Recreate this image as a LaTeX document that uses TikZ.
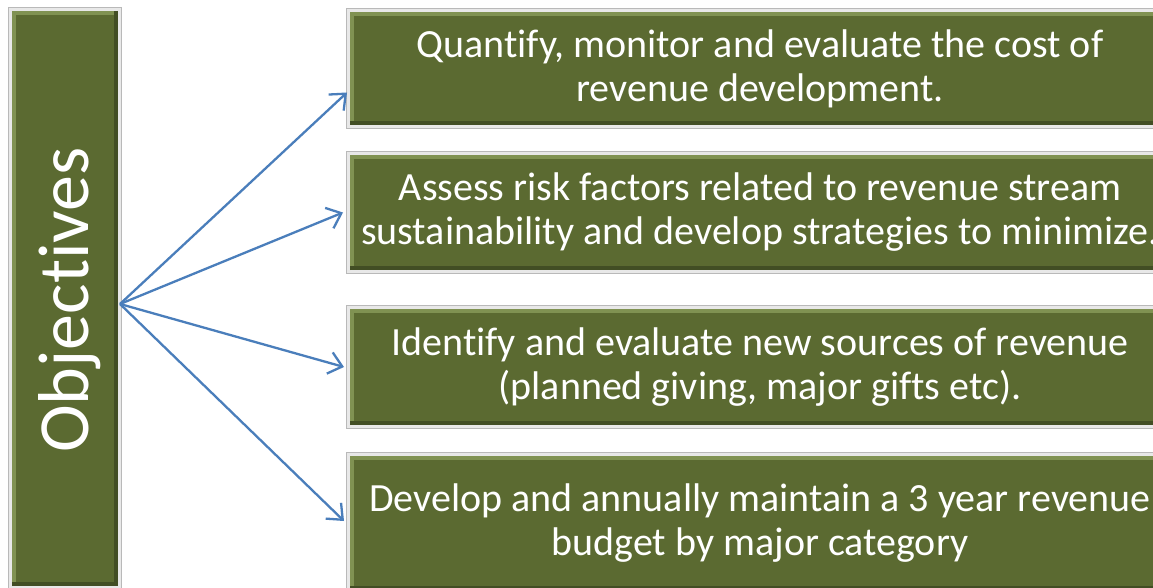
\documentclass[tikz,border=0pt]{standalone}
\usepackage{fontspec}
\setmainfont[Ligatures=CommonOff]{Carlito}
\usetikzlibrary{arrows.meta,calc}
\definecolor{boxgreen}{RGB}{91,106,49}
\definecolor{boxlight}{RGB}{128,146,82}
\definecolor{boxdark}{RGB}{66,78,36}
\definecolor{arrowblue}{RGB}{74,126,187}
\tikzset{
  greenbox/.style={rectangle, fill=boxgreen, inner sep=0pt, outer sep=0pt,
    text=white, align=center, font=\fontsize{40}{44}\selectfont,
    path picture={
      \draw[boxlight, line width=4pt]
        ([xshift=2pt]path picture bounding box.south west) --
        ([xshift=2pt,yshift=-2pt]path picture bounding box.north west) --
        ([yshift=-2pt]path picture bounding box.north east);
      \draw[boxdark, line width=4pt]
        ([xshift=-2pt]path picture bounding box.north east) --
        ([xshift=-2pt,yshift=2pt]path picture bounding box.south east) --
        ([yshift=2pt]path picture bounding box.south west);
    },
    append after command={
      \pgfextra{\draw[gray!18, line width=3pt]
        ($(\tikzlastnode.south west)+(-1.5pt,-1.5pt)$) rectangle
        ($(\tikzlastnode.north east)+(1.5pt,1.5pt)$);
        \draw[gray!55, line width=0.7pt]
        ($(\tikzlastnode.south west)+(-3.3pt,-3.3pt)$) rectangle
        ($(\tikzlastnode.north east)+(3.3pt,3.3pt)$);}
    }},
  conn/.style={draw=arrowblue, line width=2.3pt,
    -{Straight Barb[length=13pt,width=22pt,line width=2.3pt]}}
}
\begin{document}
\begin{tikzpicture}[x=1pt,y=-1pt]
\useasboundingbox (0,0) rectangle (1153,588);
\fill[white] (0,0) rectangle (1153,588);
% left box
\node[greenbox, minimum width=106pt, minimum height=575pt] (obj) at (65,298.5) {};
\node[rotate=90, anchor=base, text=white, inner sep=0pt,
  font=\fontsize{72}{80}\selectfont] (objtext) at (88,300) {Objectives};
% right boxes
\node[greenbox, minimum width=820pt, minimum height=113pt] (b1) at (760,68.5)
  {Quantify, monitor and evaluate the cost of\\revenue development.};
\node[greenbox, minimum width=820pt, minimum height=115pt] (b2) at (760,212.5)
  {Assess risk factors related to revenue stream\\sustainability and develop strategies to minimize.};
\node[greenbox, minimum width=820pt, minimum height=116pt] (b3) at (760,367)
  {Identify and evaluate new sources of revenue\\(planned giving, major gifts etc).};
\node[greenbox, minimum width=820pt, minimum height=134pt] (b4) at (760,523)
  {Develop and annually maintain a 3 year revenue\\budget by major category};
% connectors
\coordinate (src) at (120,304);
\draw[conn] (src) -- ([xshift=-3pt,yshift=-24pt]b1.west);
\draw[conn] (src) -- ([xshift=-7pt]b2.west);
\draw[conn] (src) -- ([xshift=-6pt]b3.west);
\draw[conn] (src) -- ([xshift=-6pt,yshift=2pt]b4.west);
\end{tikzpicture}
\end{document}
